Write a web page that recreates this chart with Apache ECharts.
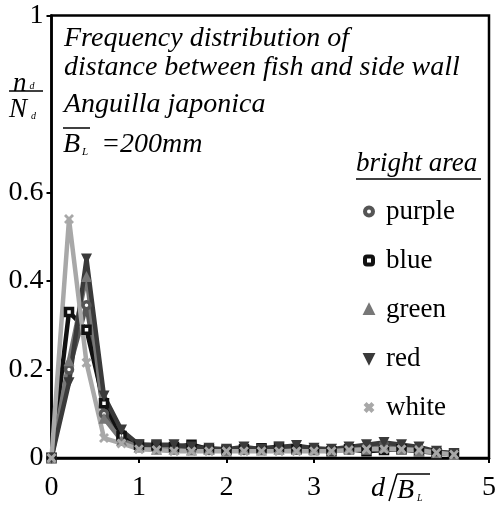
<!DOCTYPE html>
<html>
<head>
<meta charset="utf-8">
<script src="https://cdn.jsdelivr.net/npm/echarts@6/dist/echarts.min.js"></script>
<style>
  html, body { margin: 0; padding: 0; background: #fff; }
  #chart { width: 499px; height: 508px; }
</style>
</head>
<body>
<div id="chart"></div>
<script>
  // d / B_L, bins of 0.2
  let distX = [0, 0.2, 0.4, 0.6, 0.8, 1.0, 1.2, 1.4, 1.6, 1.8, 2.0, 2.2,
    2.4, 2.6, 2.8, 3.0, 3.2, 3.4, 3.6, 3.8, 4.0, 4.2, 4.4, 4.6];

  let purpleVals = [0, 0.20, 0.345, 0.10, 0.045, 0.025, 0.022, 0.02, 0.02, 0.018, 0.02, 0.018,
    0.02, 0.022, 0.02, 0.02, 0.018, 0.02, 0.025, 0.03, 0.025, 0.02, 0.015, 0.01];
  let blueVals = [0, 0.33, 0.29, 0.124, 0.05, 0.03, 0.028, 0.025, 0.03, 0.02, 0.018, 0.02,
    0.022, 0.025, 0.02, 0.018, 0.015, 0.02, 0.015, 0.018, 0.02, 0.015, 0.012, 0.008];
  let greenVals = [0, 0.22, 0.41, 0.09, 0.04, 0.025, 0.02, 0.02, 0.018, 0.02, 0.015, 0.02,
    0.018, 0.02, 0.02, 0.02, 0.018, 0.022, 0.02, 0.025, 0.02, 0.015, 0.012, 0.008];
  let redVals = [0, 0.17, 0.45, 0.14, 0.063, 0.03, 0.03, 0.03, 0.025, 0.022, 0.02, 0.025,
    0.02, 0.025, 0.028, 0.022, 0.02, 0.025, 0.03, 0.035, 0.03, 0.025, 0.015, 0.01];
  let whiteVals = [0, 0.54, 0.215, 0.045, 0.033, 0.02, 0.018, 0.015, 0.015, 0.015, 0.015, 0.015,
    0.015, 0.015, 0.015, 0.015, 0.015, 0.018, 0.02, 0.02, 0.02, 0.018, 0.012, 0.008];

  let yTickVals = [0, 0.2, 0.4, 0.6, 1];
  let xTickVals = [0, 1, 2, 3, 5];

  let serif = "'Liberation Serif', 'Times New Roman', serif";
  let crossPath = 'path://M2,0L5,3L8,0L10,2L7,5L10,8L8,10L5,7L2,10L0,8L3,5L0,2Z';
  let downTri = 'path://M0,0L10,0L5,10Z';

  function pairs(vals) {
    return distX.map((x, i) => [x, vals[i]]);
  }

  function makeSeries(name, vals, lineColor, symbol, size, itemStyle) {
    return {
      name: name,
      type: 'line',
      data: pairs(vals),
      symbol: symbol,
      symbolSize: size,
      symbolKeepAspect: true,
      lineStyle: { color: lineColor, width: 4.5 },
      itemStyle: itemStyle,
      emphasis: { disabled: true },
      animation: false
    };
  }

  let myChart = echarts.init(document.getElementById('chart'));
  let option = {
    animation: false,
    grid: {
      left: 51.5, right: 5, top: 15.5, bottom: 50,
      show: true, borderColor: '#000', borderWidth: 2.5, backgroundColor: 'transparent'
    },
    xAxis: {
      type: 'value', min: 0, max: 5, interval: 1,
      axisLine: { lineStyle: { color: '#000', width: 2.5 } },
      axisTick: { length: 5, lineStyle: { color: '#000', width: 2 }, customValues: xTickVals },
      axisLabel: { color: '#000', fontFamily: serif, fontSize: 28, margin: 16, customValues: xTickVals },
      splitLine: { show: false }
    },
    yAxis: {
      type: 'value', min: 0, max: 1, interval: 0.2,
      axisLine: { show: true, lineStyle: { color: '#000', width: 2.5 } },
      axisTick: { show: true, length: 5, lineStyle: { color: '#000', width: 2 }, customValues: yTickVals },
      axisLabel: { color: '#000', fontFamily: serif, fontSize: 28, margin: 8, customValues: yTickVals },
      splitLine: { show: false }
    },
    legend: {
      orient: 'vertical',
      left: 358, top: 193,
      itemWidth: 8, itemHeight: 8,
      itemGap: 22,
      textStyle: { color: '#000', fontFamily: serif, fontSize: 27, lineHeight: 25, padding: [0, 0, 0, 8] },
      data: [
        { name: 'purple', icon: 'circle', itemStyle: { color: '#fff', borderColor: '#555555', borderWidth: 4 } },
        { name: 'blue', icon: 'roundRect', itemStyle: { color: '#fff', borderColor: '#111111', borderWidth: 4 } },
        { name: 'green', icon: 'triangle', itemStyle: { color: '#777777', borderColor: '#777777', borderWidth: 3 } },
        { name: 'red', icon: downTri, itemStyle: { color: '#3a3a3a', borderColor: '#3a3a3a', borderWidth: 3 } },
        { name: 'white', icon: crossPath, itemStyle: { color: '#a8a8a8', borderColor: '#a8a8a8', borderWidth: 2 } }
      ]
    },
    graphic: [
      { type: 'text', left: 64, top: 25, style: { text: 'Frequency distribution of', font: 'italic 28px ' + serif, fill: '#000' } },
      { type: 'text', left: 64, top: 54, style: { text: 'distance between fish and side wall', font: 'italic 28px ' + serif, fill: '#000' } },
      { type: 'text', left: 64, top: 91, style: { text: 'Anguilla japonica', font: 'italic 28px ' + serif, fill: '#000' } },
      {
        type: 'text', left: 63, top: 131,
        style: {
          text: '{b|B}{s|L}{t| =200mm}',
          rich: {
            b: { font: 'italic 28px ' + serif, fill: '#000' },
            s: { font: 'italic 11px ' + serif, fill: '#000', padding: [14, 6, 0, 2] },
            t: { font: 'italic 28px ' + serif, fill: '#000' }
          }
        }
      },
      { type: 'line', shape: { x1: 63, y1: 128, x2: 90, y2: 128 }, style: { stroke: '#000', lineWidth: 1.5 } },
      // y axis name n_d / N_d
      {
        type: 'text', left: 13, top: 70,
        style: {
          text: '{i|n}{s|d}',
          rich: {
            i: { font: 'italic 27px ' + serif, fill: '#000' },
            s: { font: 'italic 10px ' + serif, fill: '#000', padding: [6, 0, 0, 3] }
          }
        }
      },
      { type: 'line', shape: { x1: 9, y1: 91, x2: 43, y2: 91 }, style: { stroke: '#000', lineWidth: 1.5 } },
      {
        type: 'text', left: 9, top: 96,
        style: {
          text: '{i|N}{s|d}',
          rich: {
            i: { font: 'italic 27px ' + serif, fill: '#000' },
            s: { font: 'italic 10px ' + serif, fill: '#000', padding: [14, 0, 0, 4] }
          }
        }
      },
      // x axis name d / B_L
      { type: 'text', left: 371, top: 475, style: { text: 'd', font: 'italic 28px ' + serif, fill: '#000' } },
      { type: 'line', shape: { x1: 397, y1: 474, x2: 389, y2: 501 }, style: { stroke: '#000', lineWidth: 1.5 } },
      { type: 'line', shape: { x1: 397, y1: 474, x2: 430, y2: 474 }, style: { stroke: '#000', lineWidth: 1.5 } },
      {
        type: 'text', left: 397, top: 477,
        style: {
          text: '{b|B}{s|L}',
          rich: {
            b: { font: 'italic 28px ' + serif, fill: '#000' },
            s: { font: 'italic 10px ' + serif, fill: '#000', padding: [14, 0, 0, 3] }
          }
        }
      },
      // legend heading
      { type: 'text', left: 356, top: 150, style: { text: 'bright area', font: 'italic 27px ' + serif, fill: '#000' } },
      { type: 'line', shape: { x1: 356, y1: 179, x2: 481, y2: 179 }, style: { stroke: '#000', lineWidth: 1.5 } }
    ],
    series: [
      makeSeries('purple', purpleVals, '#555555', 'circle', 7, { color: '#ffffff', borderColor: '#555555', borderWidth: 3.5 }),
      makeSeries('blue', blueVals, '#111111', 'rect', 7, { color: '#ffffff', borderColor: '#111111', borderWidth: 3.5 }),
      makeSeries('green', greenVals, '#777777', 'triangle', 11, { color: '#777777' }),
      makeSeries('red', redVals, '#3a3a3a', downTri, 11, { color: '#3a3a3a' }),
      makeSeries('white', whiteVals, '#a8a8a8', crossPath, 10, { color: '#a8a8a8' })
    ]
  };
  myChart.setOption(option);
</script>
</body>
</html>
